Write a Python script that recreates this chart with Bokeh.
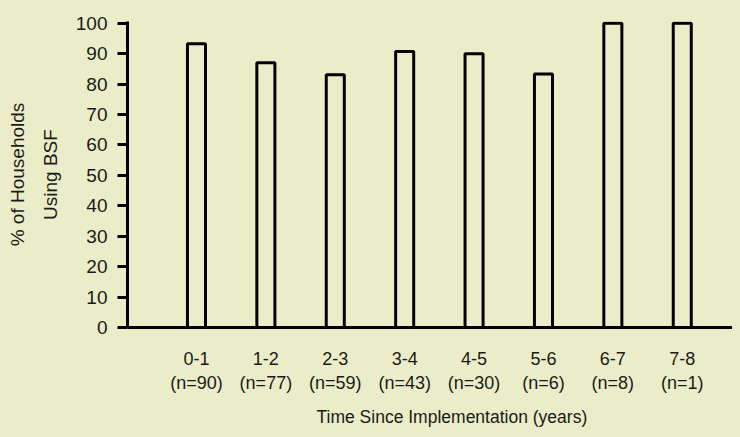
from bokeh.plotting import figure
from bokeh.models import Range1d, FixedTicker, ColumnDataSource
from bokeh.embed import file_html
from bokeh.resources import INLINE

# ---- data ----
periods = ["0-1", "1-2", "2-3", "3-4", "4-5", "5-6", "6-7", "7-8"]
n_households = [90, 77, 59, 43, 30, 6, 8, 1]
pct_using_bsf = [93.3, 87.0, 83.1, 90.7, 90.0, 83.3, 100.0, 100.0]
y_ticks = [0, 10, 20, 30, 40, 50, 60, 70, 80, 90, 100]
y_title = "% of Households\nUsing BSF"
x_title = "Time Since Implementation (years)"

BG = "#EBEDC8"
INK = "#1a1a1a"
FONT = "Liberation Sans"

xs = list(range(len(periods)))
tick_labels = {i: f"{p}\n(n={n})" for i, p, n in zip(xs, periods, n_households)}

src = ColumnDataSource(dict(x=xs, y=pct_using_bsf))

p = figure(width=732, height=429, output_backend="svg", toolbar_location=None,
           x_range=Range1d(-0.994, 7.724), y_range=Range1d(0, 100.6),
           min_border_left=127, min_border_right=0, min_border_top=21,
           min_border_bottom=102)
p.background_fill_color = BG
p.border_fill_color = BG
p.outline_line_color = None
p.xgrid.visible = False
p.ygrid.visible = False

p.vbar(x="x", top="y", bottom=0, width=0.26, source=src,
       fill_color=None, line_color="black", line_width=3)

# y axis
ya = p.yaxis[0]
ya.ticker = FixedTicker(ticks=y_ticks)
ya.axis_line_width = 3
ya.axis_line_color = "black"
ya.major_tick_line_width = 3
ya.major_tick_out = 10
ya.major_tick_in = 0
ya.minor_tick_out = 0
ya.minor_tick_in = 0
ya.major_label_standoff = 10
ya.major_label_text_font = FONT
ya.major_label_text_font_size = "19px"
ya.major_label_text_color = INK
ya.axis_label = y_title
ya.axis_label_text_font = FONT
ya.axis_label_text_font_size = "19px"
ya.axis_label_text_font_style = "normal"
ya.axis_label_text_color = INK
ya.axis_label_text_line_height = 1.55
ya.axis_label_standoff = 12

# x axis
xa = p.xaxis[0]
xa.ticker = FixedTicker(ticks=xs)
xa.major_label_overrides = tick_labels
xa.axis_line_width = 3
xa.axis_line_color = "black"
xa.major_tick_out = 0
xa.major_tick_in = 0
xa.minor_tick_out = 0
xa.minor_tick_in = 0
xa.major_label_standoff = 21
xa.major_label_text_font = FONT
xa.major_label_text_font_size = "18px"
xa.major_label_text_color = INK
xa.major_label_text_line_height = 1.22
# leading no-break spaces nudge the centred title right, as in the reference
xa.axis_label = "\u00a0" * 9 + x_title
xa.axis_label_text_font = FONT
xa.axis_label_text_font_size = "17.5px"
xa.axis_label_text_font_style = "normal"
xa.axis_label_text_color = INK
xa.axis_label_standoff = 11

html = file_html(p, INLINE)
html = html.replace("</head>", "<style>html,body{background:#EBEDC8;}</style></head>", 1)
open("out.html", "w").write(html)
